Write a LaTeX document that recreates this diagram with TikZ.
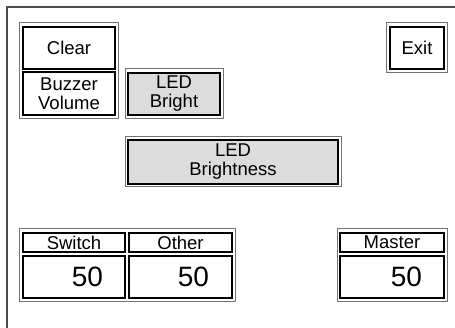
\documentclass[tikz,border=0pt]{standalone}
\usepackage{fontspec}
\setmainfont{Liberation Sans}
\usepackage{tikz}

\definecolor{keygray}{RGB}{220,220,220}

\begin{document}
\begin{tikzpicture}[
		x=1pt, y=-1pt,
		every node/.style={rectangle, inner sep=0pt, outer sep=0pt, font=\fontsize{18.5}{19}\selectfont, align=center},
		group/.style={draw=black!55, line width=1pt},
		key/.style={draw=black, line width=1.8pt, fill=white},
		litkey/.style={key, fill=keygray},
		num/.style={key, font=\fontsize{28}{30}\selectfont, align=right}
	]
  \useasboundingbox (0,0) rectangle (455,328);
  \draw [black!70, line width=1.5pt] (456,7) -- (7,7) -- (7,329);
  % top left group
  \node (g_clr) [group, minimum width=99pt, minimum height=96pt] at (68.5,71) {};
  \node (clear) [key, minimum width=92pt, minimum height=42pt] at (69,48) {Clear};
  \node (buzz) [key, minimum width=92pt, minimum height=43pt] at (69,93.5) {Buzzer\\Volume};
  % led keys
  \node (g_led) [group, minimum width=98pt, minimum height=50pt] at (174,94) {};
  \node (led) [litkey, minimum width=92pt, minimum height=42pt] at (174,94) {LED\\Bright};
  \node (g_ledb) [group, minimum width=216pt, minimum height=50pt] at (233,162) {};
  \node (ledb) [litkey, minimum width=210pt, minimum height=44pt] at (233,162) {LED\\Brightness};
  % exit
  \node (g_exit) [group, minimum width=61pt, minimum height=50pt] at (416.5,48) {};
  \node (exit) [key, minimum width=54pt, minimum height=42pt] at (417,48) {Exit};
  % volume levels
  \node (g_lvl) [group, minimum width=216pt, minimum height=73pt] at (127,265.5) {};
  \node (sw_lbl) [key, minimum width=102pt, minimum height=19pt] at (74,242.5) {Switch};
  \node (sw_val) [num, minimum width=102pt, minimum height=42pt, text width=58pt] at (74,277) {50};
  \node (ot_lbl) [key, minimum width=103pt, minimum height=19pt] at (180.5,242.5) {Other};
  \node (ot_val) [num, minimum width=103pt, minimum height=42pt, text width=57pt] at (180.5,277) {50};
  \node (g_mst) [group, minimum width=110pt, minimum height=73pt] at (392,265.5) {};
  \node (ms_lbl) [key, minimum width=104pt, minimum height=19pt] at (392,242.5) {Master};
  \node (ms_val) [num, minimum width=104pt, minimum height=42pt, text width=60pt] at (392,277) {50};
\end{tikzpicture}
\end{document}
